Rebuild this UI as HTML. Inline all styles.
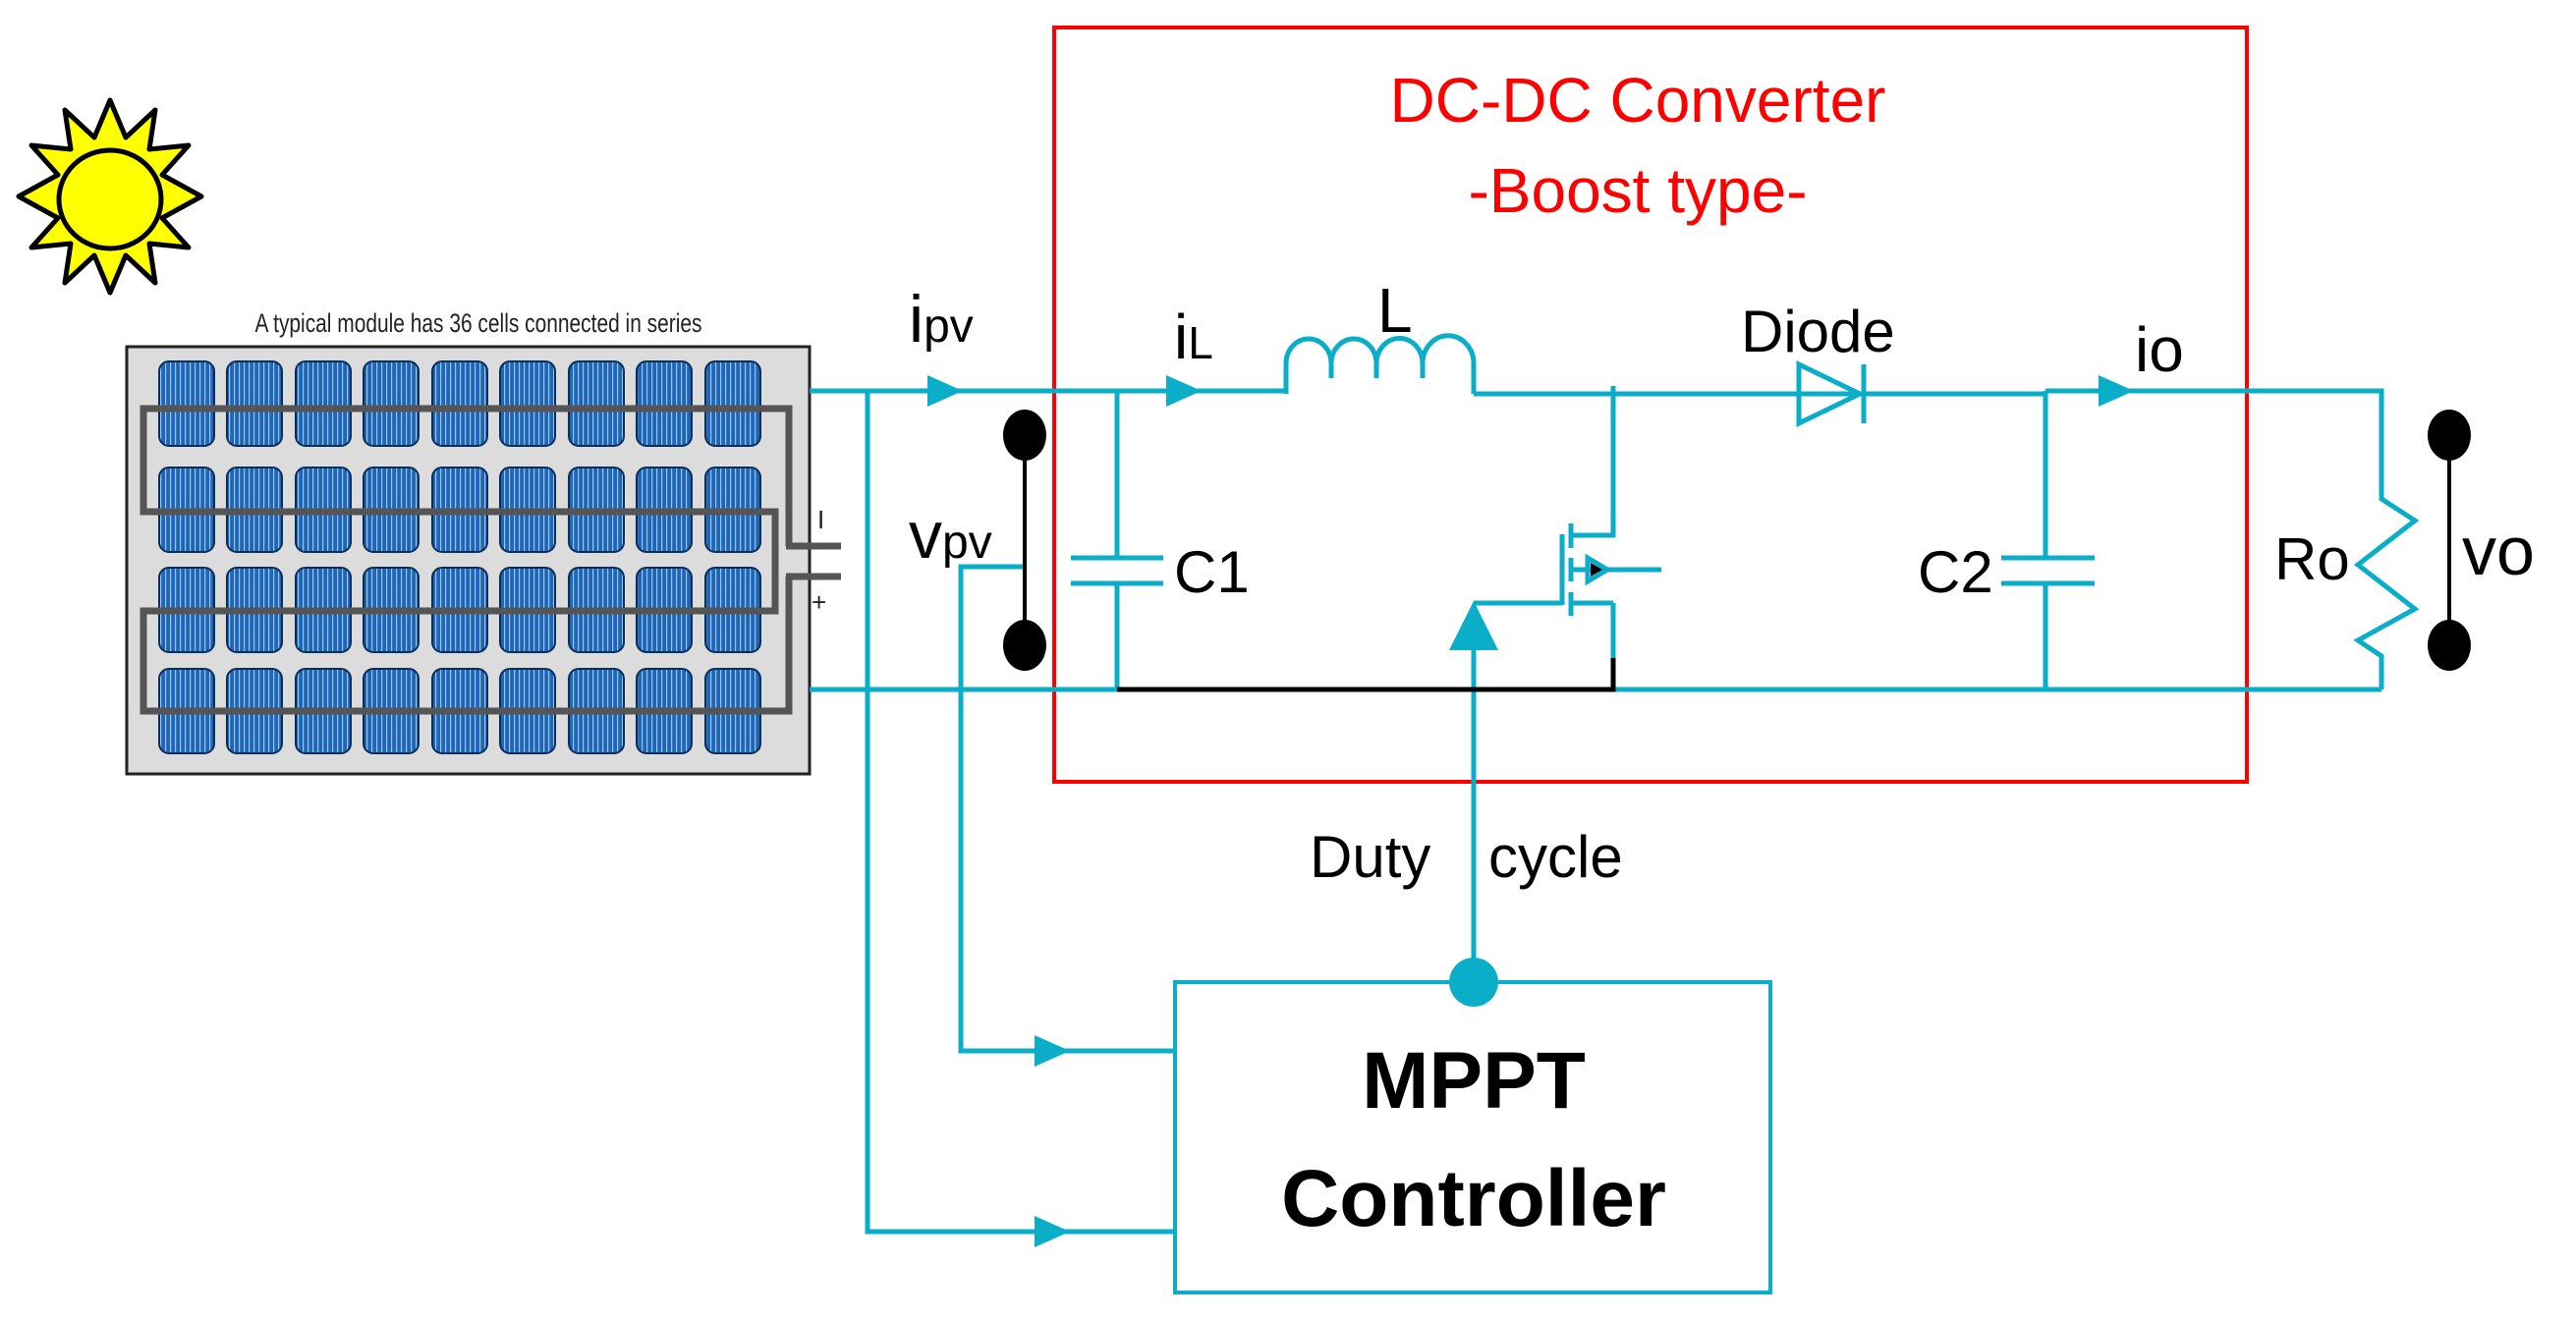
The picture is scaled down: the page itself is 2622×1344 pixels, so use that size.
<!DOCTYPE html>
<html><head><meta charset="utf-8"><style>
html,body{margin:0;padding:0;background:#fff}
svg{display:block}
text{font-family:"Liberation Sans",sans-serif}
</style></head><body>
<svg width="2622" height="1344" viewBox="0 0 2622 1344" xmlns="http://www.w3.org/2000/svg">
<defs>
<pattern id="stripe" width="5" height="10" patternUnits="userSpaceOnUse"><rect width="5" height="10" fill="#1e66b8"/><rect x="3" width="1.2" height="10" fill="#9cc4ee"/></pattern>
</defs>
<!-- sun -->
<polygon points="112,102 128,140 158,112 152,152 192,148 165,178 205,200 165,222 192,252 152,248 158,288 128,260 112,298 96,260 66,288 72,248 32,252 59,222 19,200 59,178 32,148 72,152 66,112 96,140" fill="#ffff00" stroke="#000" stroke-width="5" stroke-linejoin="round"/>
<ellipse cx="112" cy="203" rx="52" ry="50" fill="#ffff00" stroke="#000" stroke-width="5"/>
<!-- solar panel -->
<text x="487" y="338" font-size="27" text-anchor="middle" fill="#222" textLength="455" lengthAdjust="spacingAndGlyphs">A typical module has 36 cells connected in series</text>
<rect x="129" y="353" width="695" height="435" fill="#dcdcdc" stroke="#222" stroke-width="3"/>
<g fill="url(#stripe)" stroke="#0a2e5a" stroke-width="2">
<g id="row">
<rect x="162" y="368" width="56" height="86" rx="10"/><rect x="231" y="368" width="56" height="86" rx="10"/><rect x="301" y="368" width="56" height="86" rx="10"/><rect x="370" y="368" width="56" height="86" rx="10"/><rect x="440" y="368" width="56" height="86" rx="10"/><rect x="509" y="368" width="56" height="86" rx="10"/><rect x="579" y="368" width="56" height="86" rx="10"/><rect x="648" y="368" width="56" height="86" rx="10"/><rect x="718" y="368" width="56" height="86" rx="10"/>
</g>
<use href="#row" y="108"/><use href="#row" y="210"/><use href="#row" y="313"/>
</g>
<g fill="none" stroke="#555" stroke-width="7">
<path d="M803,556 V416 H146 V521 H789 V622 H146 V724 H803 V587"/>
</g>
<g stroke="#555" stroke-width="7"><line x1="800" y1="556" x2="856" y2="556"/><line x1="800" y1="587" x2="856" y2="587"/></g>
<text x="832" y="538" font-size="26" fill="#222">I</text>
<text x="826" y="622" font-size="26" fill="#222">+</text>
<!-- red box -->
<rect x="1073" y="28" width="1214" height="768" fill="none" stroke="#ff0000" stroke-width="4"/>
<text x="1667" y="124" font-size="64" fill="#ff0000" text-anchor="middle">DC-DC Converter</text>
<text x="1667" y="216" font-size="64" fill="#ff0000" text-anchor="middle">-Boost type-</text>
<!-- wires -->
<g fill="none" stroke="#0aaec8" stroke-width="5">
<path d="M824,398 H1309"/>
<path d="M1309,401 V370 A23,25 0 0 1 1355,370 V385 M1355,370 A23,25 0 0 1 1401,370 V385 M1401,370 A23,25 0 0 1 1448,370 V385 M1448,370 A23,25 0 0 1 1500,370 V401"/>
<path d="M1500,401 H2082"/>
<path d="M2082,398 H2424 V508 L2458,530 L2400,575 L2458,620 L2400,652 L2424,668 V702"/>
<path d="M824,702 H1137"/>
<path d="M1644,702 H2424"/>
<path d="M1137,398 V568 M1137,594 V702"/>
<path d="M1090,568 H1184 M1090,594 H1184"/>
<path d="M2082,398 V568 M2082,594 V702"/>
<path d="M2037,568 H2132 M2037,594 H2132"/>
<path d="M883,398 V1254 H1196"/>
<path d="M1043,577 H978 V1070 H1196"/>
<path d="M1642,393 V545 H1599 M1642,614 V670 M1599,614 H1642 M1599,580 H1691"/>
<path d="M1590,544 V616 M1599,533 V558 M1599,568 V592 M1599,603 V627"/>
<path d="M1590,614 H1500 M1500,660 V1000"/>
<path d="M1831,371 V431 L1893,401 Z M1897,371 V431"/>
<path d="M1616,568 L1636,580 L1616,592 Z"/>
</g>
<rect x="1196" y="1000" width="606" height="316" fill="none" stroke="#0aaec8" stroke-width="4"/>
<path d="M1642,670 V702 H1137" fill="none" stroke="#000" stroke-width="5"/>
<polygon points="1619,573 1631,580 1619,587" fill="#000"/>
<!-- arrowheads -->
<g fill="#0aaec8">
<polygon points="944,382 980,398 944,414"/>
<polygon points="1187,382 1223,398 1187,414"/>
<polygon points="2136,382 2172,398 2136,414"/>
<polygon points="1500,612 1525,662 1475,662"/>
<polygon points="1053,1054 1089,1070 1053,1086"/>
<polygon points="1053,1238 1089,1254 1053,1270"/>
<circle cx="1500" cy="1000" r="25"/>
</g>
<!-- terminals -->
<g fill="#000"><ellipse cx="1043" cy="443" rx="22" ry="26"/><ellipse cx="1043" cy="657" rx="22" ry="26"/><ellipse cx="2493" cy="443" rx="22" ry="26"/><ellipse cx="2493" cy="657" rx="22" ry="26"/></g>
<g stroke="#000" stroke-width="4"><line x1="1043" y1="443" x2="1043" y2="657"/><line x1="2493" y1="443" x2="2493" y2="657"/></g>
<!-- labels -->
<g fill="#000">
<text x="925" y="348" font-size="68">i<tspan font-size="48">pv</tspan></text>
<text x="925" y="568" font-size="68">v<tspan font-size="48">pv</tspan></text>
<text x="1195" y="365" font-size="64">i<tspan font-size="46">L</tspan></text>
<text x="1402" y="338" font-size="64">L</text>
<text x="1772" y="358" font-size="60">Diode</text>
<text x="2173" y="378" font-size="64">io</text>
<text x="1195" y="603" font-size="60">C1</text>
<text x="1952" y="603" font-size="60">C2</text>
<text x="2315" y="590" font-size="60">Ro</text>
<text x="2506" y="585" font-size="70">vo</text>
<text x="1333" y="893" font-size="60">Duty</text>
<text x="1515" y="893" font-size="60">cycle</text>
<text x="1500" y="1128" font-size="82" font-weight="bold" text-anchor="middle">MPPT</text>
<text x="1500" y="1248" font-size="82" font-weight="bold" text-anchor="middle">Controller</text>
</g>
</svg>
</body></html>
